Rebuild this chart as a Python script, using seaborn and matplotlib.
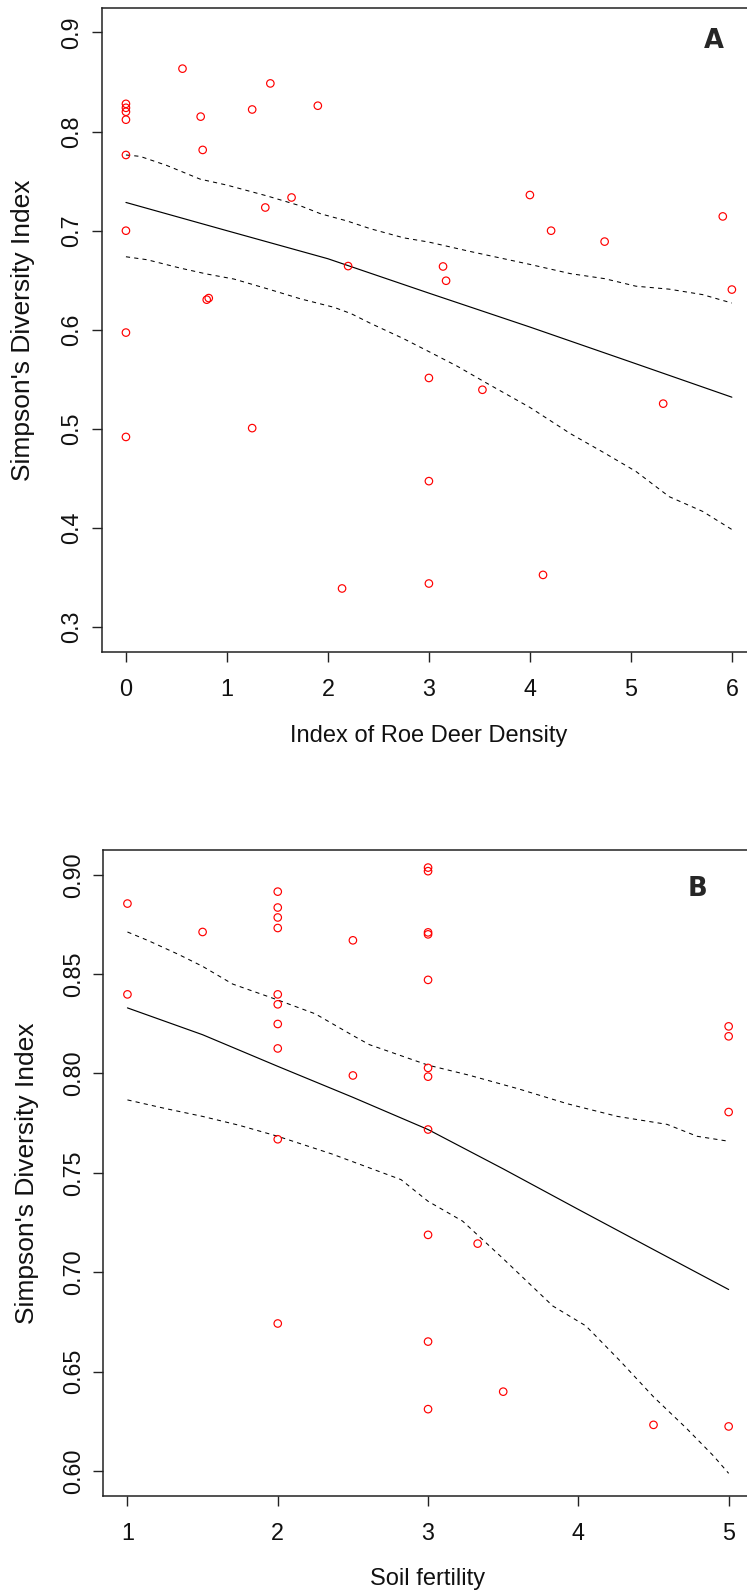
import numpy as np
import pandas as pd
import matplotlib
matplotlib.use("Agg")
import matplotlib.pyplot as plt
import seaborn as sns

# ---------------- data ----------------
# Panel A: Index of Roe Deer Density vs Simpson's Diversity Index
a_x = [0.56, 1.43, 0, 0, 0, 0, 0.74, 1.25, 1.90, 0.76, 0, 1.64, 1.38, 0,
       2.20, 0.80, 0.82, 0, 1.25, 0, 2.14,
       4.00, 5.91, 4.21, 4.74, 3.14, 3.17, 6.00, 3.00, 3.53, 5.32, 3.00,
       4.13, 3.00]
a_y = [0.8635, 0.8486, 0.828, 0.824, 0.820, 0.812, 0.8151, 0.8223, 0.8261,
       0.7815, 0.7764, 0.7335, 0.7234, 0.700, 0.6643, 0.6304, 0.632, 0.5972,
       0.5008, 0.4919, 0.339,
       0.736, 0.7144, 0.700, 0.689, 0.6639, 0.6495, 0.6406, 0.5514, 0.5395,
       0.5255, 0.4473, 0.3527, 0.344]
a_fit_x = [0, 1, 2, 3, 4, 5, 6]
a_fit_y = [0.7285, 0.700, 0.6717, 0.637, 0.6028, 0.5675, 0.532]
a_up_x = [0, 0.14, 0.40, 0.735, 1.0, 1.4, 1.73, 1.93, 2.19, 2.42, 2.75, 3.0,
          3.41, 4.0, 4.40, 4.74, 5.05, 5.38, 5.71, 6.0]
a_up_y = [0.7764, 0.775, 0.766, 0.752, 0.746, 0.735, 0.725, 0.717, 0.7098,
          0.702, 0.6928, 0.6885, 0.679, 0.666, 0.6567, 0.6516, 0.644, 0.641,
          0.6355, 0.627]
a_lo_x = [0, 0.21, 0.54, 0.80, 1.07, 1.40, 1.73, 2.06, 2.23, 2.42, 2.75, 3.0,
          3.28, 3.57, 4.0, 4.40, 4.73, 5.05, 5.38, 5.71, 6.0]
a_lo_y = [0.6737, 0.6707, 0.6622, 0.6563, 0.6512, 0.6414, 0.6312, 0.6227,
          0.6163, 0.6066, 0.591, 0.578, 0.5633, 0.5463, 0.5217, 0.4953,
          0.4762, 0.4571, 0.4316, 0.4168, 0.3985]

# Panel B: Soil fertility vs Simpson's Diversity Index
b_x = [1, 1, 1.5, 2, 2, 2, 2, 2, 2, 2, 2, 2, 2, 2.5, 2.5,
       3, 3, 3, 3, 3, 3, 3, 3, 3, 3.33, 3, 3.5, 3, 4.5, 5, 5, 5, 5]
b_y = [0.8855, 0.8398, 0.8712, 0.8915, 0.8835, 0.8785, 0.8732, 0.8398,
       0.8348, 0.8249, 0.8126, 0.7669, 0.6742, 0.867, 0.799,
       0.9036, 0.9018, 0.871, 0.870, 0.8471, 0.8028, 0.7984, 0.7718, 0.7188,
       0.7144, 0.6651, 0.6399, 0.6311, 0.6232, 0.8237, 0.8187, 0.7806, 0.6224]
b_fit_x = [1, 1.5, 2, 2.5, 3, 3.5, 4, 4.5, 5]
b_fit_y = [0.833, 0.8195, 0.8036, 0.788, 0.7718, 0.752, 0.7316, 0.7114,
           0.6913]
b_up_x = [1.0, 1.14, 1.34, 1.50, 1.70, 2.0, 2.25, 2.5, 2.61, 3.0, 3.27, 3.6,
          3.93, 4.26, 4.59, 4.79, 5.0]
b_up_y = [0.8712, 0.8668, 0.8599, 0.8539, 0.845, 0.837, 0.830, 0.8191,
          0.8145, 0.8042, 0.7992, 0.7923, 0.7847, 0.7784, 0.7744, 0.7684,
          0.7659]
b_lo_x = [1.0, 1.25, 1.5, 1.74, 2.0, 2.36, 2.61, 2.82, 3.0, 3.23, 3.5, 3.83,
          4.05, 4.28, 4.50, 4.72, 4.90, 5.0]
b_lo_y = [0.7867, 0.7824, 0.7784, 0.774, 0.7684, 0.7595, 0.7525, 0.7466,
          0.7357, 0.7257, 0.7068, 0.683, 0.673, 0.6552, 0.6373, 0.6214,
          0.6075, 0.5988]

a_xticks = [0, 1, 2, 3, 4, 5, 6]
a_yticks = [0.3, 0.4, 0.5, 0.6, 0.7, 0.8, 0.9]
a_yticklabels = ["0.3", "0.4", "0.5", "0.6", "0.7", "0.8", "0.9"]
b_xticks = [1, 2, 3, 4, 5]
b_yticks = [0.60, 0.65, 0.70, 0.75, 0.80, 0.85, 0.90]
b_yticklabels = ["0.60", "0.65", "0.70", "0.75", "0.80", "0.85", "0.90"]

y_label = "Simpson's Diversity Index"
a_xlabel = "Index of Roe Deer Density"
b_xlabel = "Soil fertility"

# ---------------- style ----------------
sns.set_theme(style="ticks")
plt.rcParams["font.family"] = ["Liberation Sans", "DejaVu Sans"]
plt.rcParams["axes.linewidth"] = 1.1
plt.rcParams["axes.edgecolor"] = "#222222"

W, H = 747, 1593
fig = plt.figure(figsize=(W / 100, H / 100), dpi=100)
fig.patch.set_facecolor("white")


def px_axes(left, top, right, bottom):
    return fig.add_axes([left / W, 1 - bottom / H, (right - left) / W,
                         (bottom - top) / H])


def draw_panel(ax, x, y, fx, fy, ux, uy, lx, ly, xlim, ylim, xticks, yticks,
               yticklabels, xlabel, xlab_y, ylab_x):
    df = pd.DataFrame({"x": x, "y": y})
    sns.scatterplot(data=df, x="x", y="y", ax=ax, marker="o", s=29,
                    facecolors="none", edgecolor="#ff0000", linewidth=0.85,
                    zorder=3)
    for coll in ax.collections:
        coll.set_facecolor("none")
        coll.set_edgecolor("#ff0000")
    sns.lineplot(x=fx, y=fy, ax=ax, color="black", linewidth=0.85,
                 sort=False, estimator=None)
    for bx, by in ((ux, uy), (lx, ly)):
        sns.lineplot(x=bx, y=by, ax=ax, color="black", linewidth=0.75,
                     sort=False, estimator=None, linestyle=(0, (4, 4)))
    ax.set_xlim(*xlim)
    ax.set_ylim(*ylim)
    ax.set_xticks(xticks)
    ax.set_xticklabels([str(t) for t in xticks])
    ax.set_yticks(yticks)
    ax.set_yticklabels(yticklabels, rotation=90, va="center")
    ax.tick_params(axis="both", direction="out", length=7.5, width=1.0,
                   color="#222222", labelsize=16.8, labelcolor="#111111")
    ax.tick_params(axis="x", pad=11)
    ax.tick_params(axis="y", pad=6)
    ax.spines["right"].set_visible(True)
    ax.set_xlabel(xlabel, fontsize=17, color="#111111")
    ax.set_ylabel(y_label, fontsize=19, color="#111111")
    ax.xaxis.set_label_coords(0.5, xlab_y)
    ax.yaxis.set_label_coords(ylab_x, 0.5)
    ax.set_facecolor("white")
    ax.grid(False)


axA = px_axes(101.7, 7.6, 756.1, 652.0)
draw_panel(axA, a_x, a_y, a_fit_x, a_fit_y, a_up_x, a_up_y, a_lo_x, a_lo_y,
           (-0.24, 6.24), (0.2749, 0.9251), a_xticks, a_yticks, a_yticklabels,
           a_xlabel, -0.113, -0.102)

axB = px_axes(103.4, 849.9, 752.7, 1496.0)
draw_panel(axB, b_x, b_y, b_fit_x, b_fit_y, b_up_x, b_up_y, b_lo_x, b_lo_y,
           (0.84, 5.16), (0.5874, 0.9125), b_xticks, b_yticks, b_yticklabels,
           b_xlabel, -0.112, -0.0987)

fig.text(713.7 / W, 1 - 41 / H, "A", ha="center", va="center",
         fontsize=18.5, fontweight="bold", family=["DejaVu Sans"])
fig.text(697.7 / W, 1 - 889.4 / H, "B", ha="center", va="center",
         fontsize=18.5, fontweight="bold", family=["DejaVu Sans"])

fig.savefig("out.png", dpi=100, facecolor="white")
